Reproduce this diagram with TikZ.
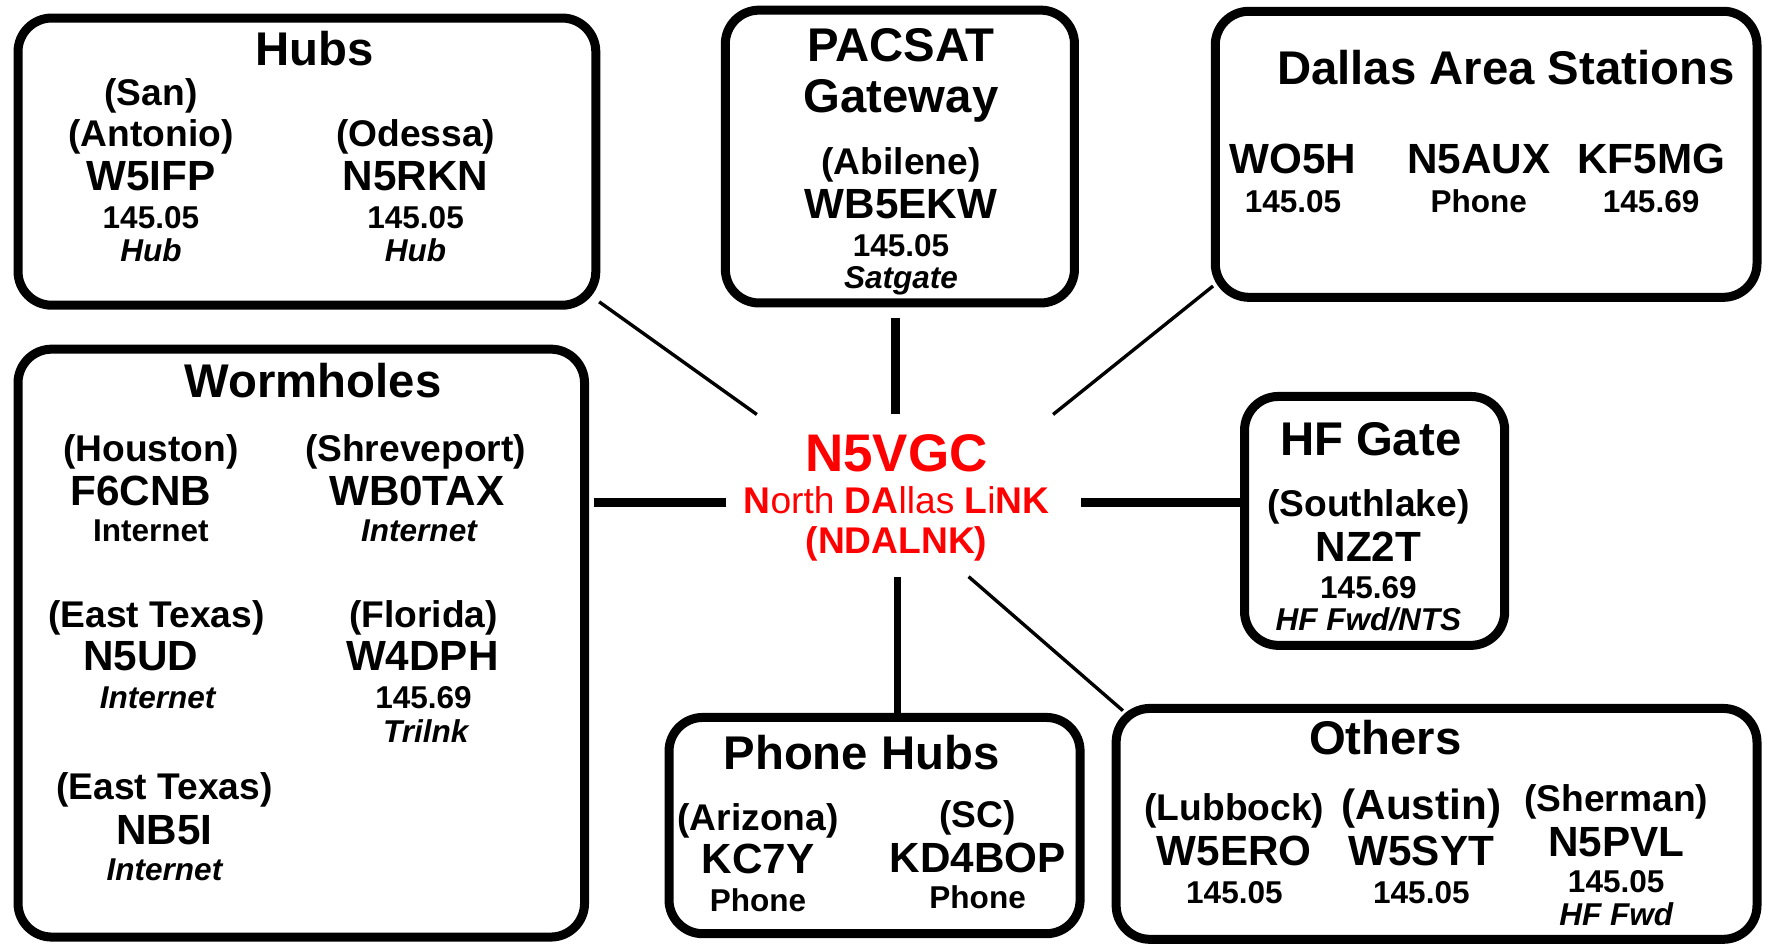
\documentclass[tikz,border=0pt]{standalone}
\usepackage{fontspec}
\setmainfont{Liberation Sans}
\begin{document}
\begin{tikzpicture}[x=1pt,y=-1pt,
  box/.style={draw=black,line width=8pt,rounded corners=30pt,inner sep=0pt,outer sep=0pt},
  thin/.style={line width=3pt},
  thick/.style={line width=8pt},
  mid/.style={line width=6pt},
  ttl/.style={font=\bfseries\fontsize{42}{46}\selectfont,text height=30pt,text depth=0pt,inner sep=0pt},
  loc/.style={font=\bfseries\fontsize{33}{36}\selectfont,text height=23.6pt,text depth=0pt,inner sep=0pt},
  call/.style={font=\bfseries\fontsize{37.5}{40}\selectfont,text height=26.8pt,text depth=0pt,inner sep=0pt},
  freq/.style={font=\bfseries\fontsize{28}{30}\selectfont,text height=20pt,text depth=0pt,inner sep=0pt},
  typ/.style={font=\bfseries\itshape\fontsize{28}{30}\selectfont,text height=20pt,text depth=0pt,inner sep=0pt},
  redt/.style={text=red,inner sep=0pt,text depth=0pt}
]
\useasboundingbox (0,0) rectangle (1568,840);

% boxes
\node[box,minimum width=513pt,minimum height=255pt] (hubs) at (272.5,143.5) {};
\node[box,minimum width=310pt,minimum height=260pt] (pacsat) at (799,139) {};
\node[box,minimum width=481pt,minimum height=254pt] (dallas) at (1319.5,137) {};
\node[box,minimum width=503pt,minimum height=522pt] (worm) at (267.5,571) {};
\node[box,minimum width=231pt,minimum height=221pt] (hf) at (1220.5,462.5) {};
\node[box,minimum width=365pt,minimum height=192pt] (phone) at (776.5,733) {};
\node[box,minimum width=569pt,minimum height=205pt] (others) at (1275.5,731.5) {};

% center
\node[redt,font=\bfseries\fontsize{47}{50}\selectfont,text height=33.6pt] (n5vgc) at (796,402) {N5VGC};
\node[redt,font=\fontsize{33}{36}\selectfont,text height=23.6pt] (ndl) at (796,444) {\textbf{N}orth \textbf{DA}llas \textbf{L}i\textbf{NK}};
\node[redt,font=\bfseries\fontsize{33}{36}\selectfont,text height=23.6pt] (ndalnk) at (796,480) {(NDALNK)};

\coordinate (cnw) at (672,368);
\coordinate (cn) at (795,368);
\coordinate (cne) at (935,368);
\coordinate (cw) at (645,446);
\coordinate (ce) at (960,446);
\coordinate (cs) at (797,512);
\coordinate (cse) at (860,512);

% connectors
\draw[thin] ([xshift=3pt,yshift=3pt]hubs.south east) -- (cnw);
\draw[thick] (cn |- pacsat.south) ++(0,13) -- (cn);
\draw[thin] ([xshift=-2pt,yshift=10pt]dallas.south west) -- (cne);
\draw[thick] ([xshift=8pt]worm.east |- cw) -- (cw);
\draw[thick] (hf.west |- ce) -- (ce);
\draw[mid] (cs |- phone.north) -- (cs);
\draw[thin] ([xshift=6pt,yshift=-2pt]others.north west) -- (cse);

% Hubs
\node[ttl] (t1) at (279,43) {Hubs};
\node[loc] (h1a) at (134,82) {(San)};
\node[loc] (h1b) at (134,118) {(Antonio)};
\node[call] (h1c) at (134,156) {W5IFP};
\node[freq] (h1d) at (134,193) {145.05};
\node[typ] (h1e) at (134,222) {Hub};
\node[loc] (h2b) at (369,118) {(Odessa)};
\node[call] (h2c) at (369,156) {N5RKN};
\node[freq] (h2d) at (369,193) {145.05};
\node[typ] (h2e) at (369,222) {Hub};

% PACSAT
\node[ttl] (t2) at (800,40) {PACSAT};
\node[ttl] (t2b) at (800,85) {Gateway};
\node[loc] (p1) at (800,143) {(Abilene)};
\node[call] (p2) at (800,181) {WB5EKW};
\node[freq] (p3) at (800,218) {145.05};
\node[typ] (p4) at (800,246) {Satgate};

% Dallas
\node[ttl] (t3) at (1337,60) {Dallas Area Stations};
\node[call] (d1) at (1148,141) {WO5H};
\node[freq] (d1b) at (1148,179) {145.05};
\node[call] (d2) at (1313,141) {N5AUX};
\node[freq] (d2b) at (1313,179) {Phone};
\node[call] (d3) at (1466,141) {KF5MG};
\node[freq] (d3b) at (1466,179) {145.69};

% Wormholes
\node[ttl] (t4) at (278,338) {Wormholes};
\node[loc] (w1a) at (134,398) {(Houston)};
\node[call] (w1b) at (125,435) {F6CNB};
\node[freq] (w1c) at (134,471) {Internet};
\node[loc] (w2a) at (369,398) {(Shreveport)};
\node[call] (w2b) at (370,435) {WB0TAX};
\node[typ] (w2c) at (372,471) {Internet};
\node[loc] (w3a) at (139,545) {(East Texas)};
\node[call] (w3b) at (125,582) {N5UD};
\node[typ] (w3c) at (140,619) {Internet};
\node[loc] (w4a) at (376,545) {(Florida)};
\node[call] (w4b) at (375,582) {W4DPH};
\node[freq] (w4c) at (376,619) {145.69};
\node[typ] (w4d) at (378,649) {Trilnk};
\node[loc] (w5a) at (146,698) {(East Texas)};
\node[call] (w5b) at (146,736) {NB5I};
\node[typ] (w5c) at (146,772) {Internet};

% HF Gate
\node[ttl] (t5) at (1217,389) {HF Gate};
\node[loc] (f1) at (1215,447) {(Southlake)};
\node[call] (f2) at (1215,485) {NZ2T};
\node[freq] (f3) at (1215,521) {145.69};
\node[typ] (f4) at (1215,550) {HF Fwd/NTS};

% Phone Hubs
\node[ttl] (t6) at (765,668) {Phone Hubs};
\node[loc] (ph1a) at (673,726) {(Arizona)};
\node[call] (ph1b) at (673,762) {KC7Y};
\node[freq] (ph1c) at (673,799) {Phone};
\node[loc] (ph2a) at (868,723) {(SC)};
\node[call] (ph2b) at (868,761) {KD4BOP};
\node[freq] (ph2c) at (868,797) {Phone};

% Others
\node[ttl] (t7) at (1230,655) {Others};
\node[loc] (o1a) at (1096,717) {(Lubbock)};
\node[call] (o1b) at (1096,755) {W5ERO};
\node[freq] (o1c) at (1096,792) {145.05};
\node[loc,font=\bfseries\fontsize{37.5}{40}\selectfont,text height=26.8pt] (o2a) at (1262,714) {(Austin)};
\node[call] (o2b) at (1262,755) {W5SYT};
\node[freq] (o2c) at (1262,792) {145.05};
\node[loc] (o3a) at (1435,709) {(Sherman)};
\node[call] (o3b) at (1435,747) {N5PVL};
\node[freq] (o3c) at (1435,782) {145.05};
\node[typ] (o3d) at (1435,812) {HF Fwd};
\end{tikzpicture}
\end{document}
